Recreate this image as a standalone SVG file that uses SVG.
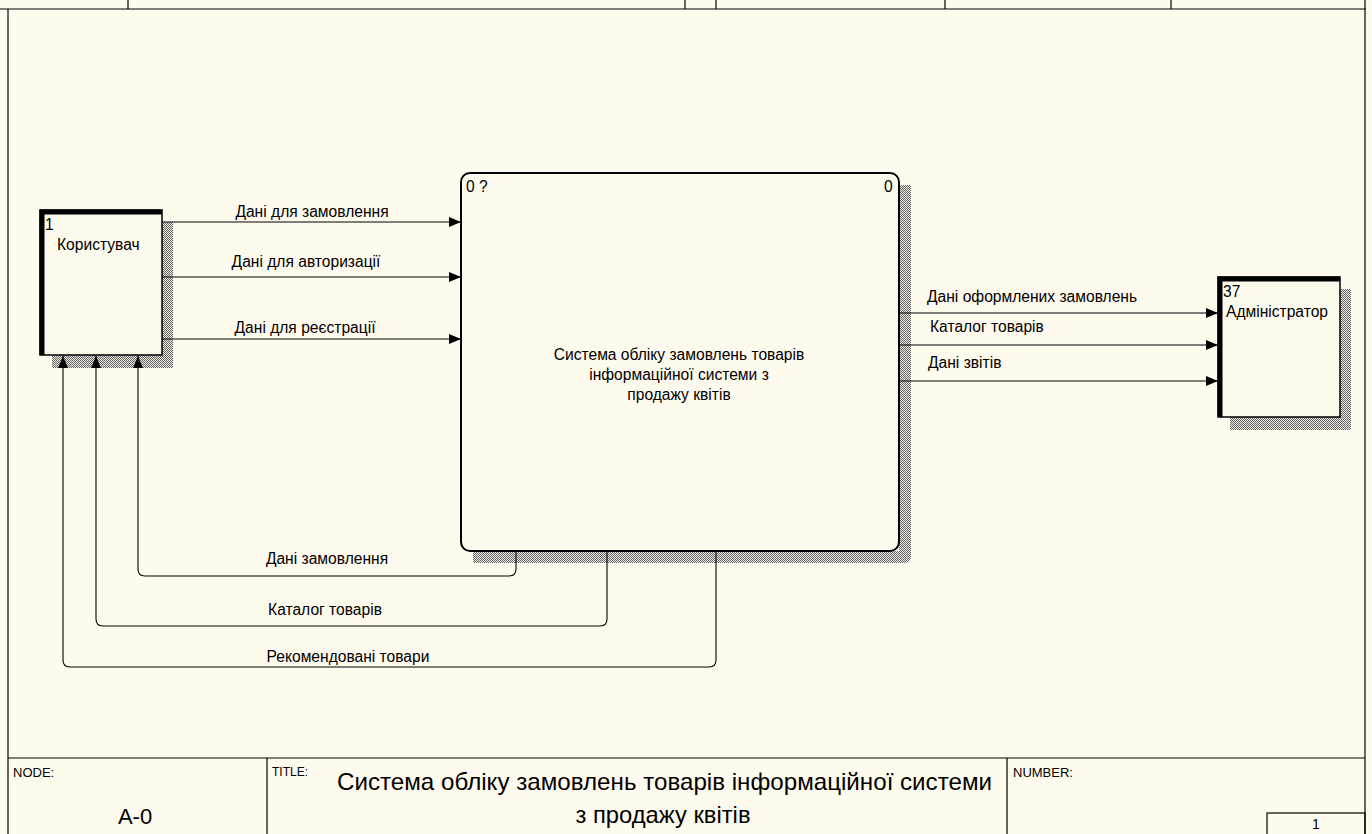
<svg xmlns="http://www.w3.org/2000/svg" width="1372" height="834" viewBox="0 0 1372 834">
<defs>
<pattern id="hatch" width="2" height="2" patternUnits="userSpaceOnUse">
<rect width="2" height="2" fill="#eeeae2"/>
<rect x="0" y="0" width="1" height="1" fill="#666"/>
<rect x="1" y="1" width="1" height="1" fill="#666"/>
</pattern>
<marker id="arr" viewBox="0 0 12 10" refX="12" refY="5" markerWidth="12" markerHeight="10" markerUnits="userSpaceOnUse" orient="auto">
<path d="M0,0 L12,5 L0,10 Z" fill="#000"/>
</marker>
<style>
.t{font-family:"Liberation Sans",Arial,sans-serif;font-size:15.6px;fill:#000}
.s12{font-size:12px}
.s13{font-size:13px}
.s14{font-size:14px}
.s22{font-size:22px}
.s24{font-size:24px}
.ln{fill:none;stroke:#000;stroke-width:1.1}
.fr{fill:none;stroke:#000;stroke-width:1.2}
</style>
</defs>
<rect width="1372" height="834" fill="#fffaee"/>
<g id="frame">
<line class="fr" x1="0" y1="9" x2="1366" y2="9"/>
<line class="fr" x1="8" y1="9" x2="8" y2="834"/>
<line class="fr" x1="1365" y1="0" x2="1365" y2="834"/>
<line class="fr" x1="128" y1="0" x2="128" y2="9"/>
<line class="fr" x1="685" y1="0" x2="685" y2="9"/>
<line class="fr" x1="716" y1="0" x2="716" y2="9"/>
<line class="fr" x1="945" y1="0" x2="945" y2="9"/>
<line class="fr" x1="1171" y1="0" x2="1171" y2="9"/>
<line class="fr" x1="8" y1="758" x2="1365" y2="758"/>
<line class="fr" x1="267" y1="758" x2="267" y2="834"/>
<line class="fr" x1="1007" y1="758" x2="1007" y2="834"/>
<rect class="fr" x="1267" y="813" width="98" height="22"/>
<text class="t s13" x="13" y="777">NODE:</text>
<text class="t s22" x="135" y="824" text-anchor="middle">A-0</text>
<text class="t s12" x="272" y="776">TITLE:</text>
<text class="t s13" x="1013" y="777">NUMBER:</text>
<text class="t s14" x="1316" y="829" text-anchor="middle">1</text>
<text class="t s24" x="337" y="790" textLength="655" lengthAdjust="spacingAndGlyphs">Система обліку замовлень товарів  інформаційної системи</text>
<text class="t s24" x="663" y="823" text-anchor="middle" textLength="175" lengthAdjust="spacingAndGlyphs">з продажу квітів</text>
</g>
<g id="node-user">
<rect x="162" y="222" width="11" height="146" fill="url(#hatch)"/>
<rect x="52" y="355" width="121" height="13" fill="url(#hatch)"/>
<rect x="40" y="210" width="122" height="145" fill="#fffaee" stroke="#000" stroke-width="1.5"/>
<path d="M42,355 V212 H162" fill="none" stroke="#000" stroke-width="5"/>
<text class="t" x="45" y="230">1</text>
<text class="t" x="57" y="250">Користувач</text>
</g>
<g id="node-system">
<path d="M899,185 H911 V556 Q911,563 904,563 H473 V551 H899 Z" fill="url(#hatch)"/>
<rect x="461" y="173" width="438" height="378" rx="9" fill="#fffaee" stroke="#000" stroke-width="2"/>
<text class="t" x="466" y="192">0 ?</text>
<text class="t" x="884" y="192">0</text>
<text class="t" x="679" y="360" text-anchor="middle">Система обліку замовлень товарів</text>
<text class="t" x="679" y="380" text-anchor="middle">інформаційної системи з</text>
<text class="t" x="679" y="400" text-anchor="middle">продажу квітів</text>
</g>
<g id="node-admin">
<rect x="1340" y="289" width="11" height="141" fill="url(#hatch)"/>
<rect x="1230" y="417" width="121" height="13" fill="url(#hatch)"/>
<rect x="1218" y="277" width="122" height="140" fill="#fffaee" stroke="#000" stroke-width="1.5"/>
<path d="M1220,417 V279 H1340" fill="none" stroke="#000" stroke-width="5"/>
<text class="t" x="1223" y="297">37</text>
<text class="t" x="1226" y="317">Адміністратор</text>
</g>
<g id="connectors">
<path class="ln" d="M162,222 H461" marker-end="url(#arr)"/>
<text class="t" x="312" y="217" text-anchor="middle">Дані для замовлення</text>
<path class="ln" d="M162,277 H461" marker-end="url(#arr)"/>
<text class="t" x="306" y="267" text-anchor="middle">Дані для авторизації</text>
<path class="ln" d="M162,339 H461" marker-end="url(#arr)"/>
<text class="t" x="305" y="333" text-anchor="middle">Дані для реєстрації</text>
<path class="ln" d="M899,313 H1218" marker-end="url(#arr)"/>
<text class="t" x="927" y="302">Дані оформлених замовлень</text>
<path class="ln" d="M899,345 H1218" marker-end="url(#arr)"/>
<text class="t" x="930" y="332">Каталог товарів</text>
<path class="ln" d="M899,381 H1218" marker-end="url(#arr)"/>
<text class="t" x="928" y="368">Дані звітів</text>
<path class="ln" d="M516,551 V569 Q516,576 509,576 H145 Q138,576 138,569 V356" marker-end="url(#arr)"/>
<text class="t" x="327" y="564" text-anchor="middle">Дані замовлення</text>
<path class="ln" d="M607,551 V619 Q607,626 600,626 H103 Q96,626 96,619 V356" marker-end="url(#arr)"/>
<text class="t" x="325" y="615" text-anchor="middle">Каталог товарів</text>
<path class="ln" d="M716,551 V660 Q716,667 709,667 H70 Q63,667 63,660 V356" marker-end="url(#arr)"/>
<text class="t" x="348" y="662" text-anchor="middle">Рекомендовані товари</text>
</g>
</svg>
